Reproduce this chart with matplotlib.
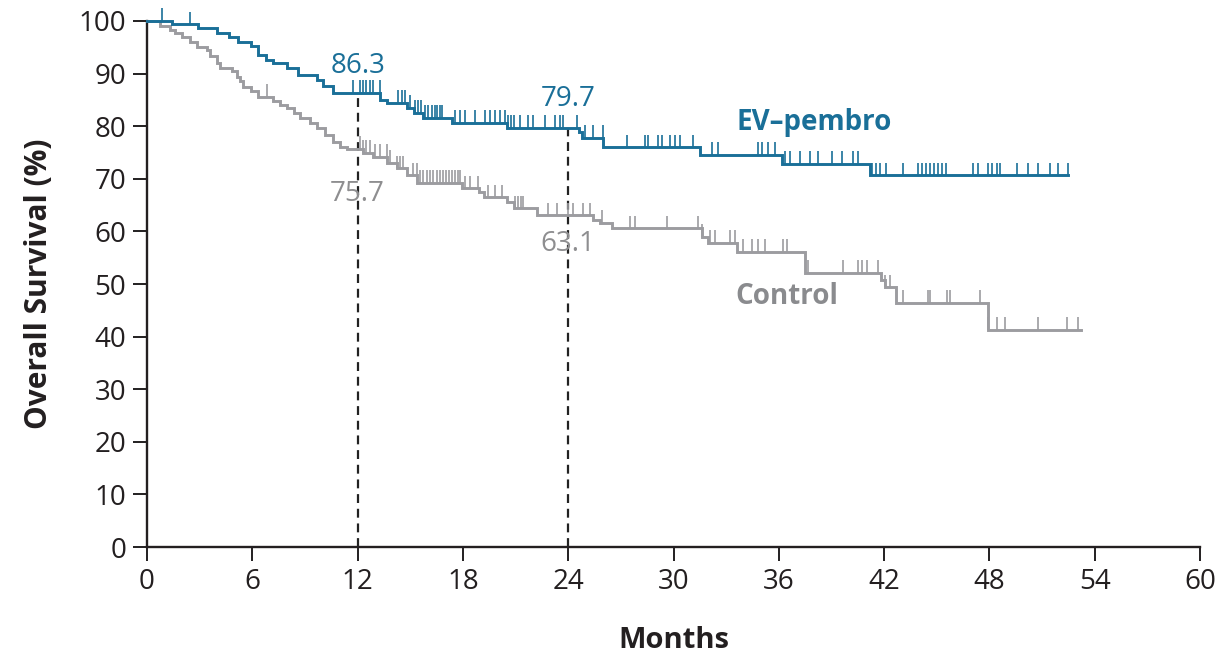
import numpy as np
import matplotlib
matplotlib.use("Agg")
from matplotlib import pyplot as plt

plt.rcParams['font.family'] = ['Open Sans', 'DejaVu Sans']

# Kaplan-Meier steps: (month of drop, survival after drop)
ev_times = [0, 1.42, 2.9, 4.0, 4.7, 5.2, 5.9, 6.3, 6.8, 7.2, 8.0, 8.6, 9.7, 10.0,
            10.6, 13.3, 13.7, 14.8, 15.2, 15.7, 17.4, 20.5, 24.6, 24.8, 26.0,
            31.5, 36.2, 41.2]
ev_surv = [100, 99.4, 98.6, 97.7, 97.0, 96.0, 95.3, 93.6, 92.6, 92.0, 91.0, 89.7,
           88.8, 87.7, 86.3, 85.0, 84.4, 83.5, 82.5, 81.6, 80.6, 79.7, 78.9, 77.8,
           76.0, 74.6, 72.8, 70.7]
ev_end = 52.5

ctl_times = [0, 0.75, 1.3, 1.6, 2.0, 2.45, 2.85, 3.4, 3.6, 4.0, 4.15, 4.85, 5.1,
             5.3, 5.45, 5.9, 6.3, 7.2, 7.6, 8.0, 8.4, 8.7, 9.3, 9.7, 10.15, 10.6,
             11.0, 11.4, 12.3, 12.9, 13.7, 14.25, 14.8, 15.4, 17.95, 18.9, 19.2,
             20.5, 20.9, 22.2, 25.4, 25.8, 26.5, 31.6, 31.95, 33.6, 37.5, 41.8,
             42.05, 42.7, 47.9]
ctl_surv = [100, 99.0, 98.3, 97.7, 97.0, 96.0, 95.1, 94.5, 93.4, 92.0, 91.0, 90.4,
            89.4, 88.5, 87.5, 86.6, 85.6, 84.7, 84.0, 83.5, 82.5, 81.6, 80.6, 79.7,
            78.3, 77.0, 76.1, 75.7, 74.9, 74.2, 73.0, 72.0, 70.7, 69.3, 68.2, 67.5,
            66.5, 65.6, 64.4, 63.1, 62.2, 61.6, 60.6, 59.0, 57.8, 56.1, 52.1, 50.8,
            49.4, 46.4, 41.3]
ctl_end = 53.2

# censoring marks (months)
ev_censor = [0.85, 2.45, 11.74, 12.14, 12.31, 12.48, 12.71, 12.88, 13.28, 14.30,
             14.53, 14.70, 14.99, 15.27, 15.44, 15.61, 15.84, 16.01, 16.24, 16.41,
             16.52, 16.70, 16.81, 17.55, 17.83, 18.12, 18.69, 19.26, 19.54, 19.83,
             20.11, 20.40, 20.57, 20.74, 20.91, 21.25, 21.71, 21.99, 22.68, 23.25,
             23.53, 23.70, 24.50, 24.96, 25.41, 25.98, 27.35, 28.38, 28.55, 29.12,
             29.34, 29.80, 30.09, 30.37, 31.11, 32.19, 32.54, 34.81, 35.04, 35.38,
             35.78, 36.35, 36.64, 37.21, 37.78, 38.23, 39.03, 39.60, 40.23, 40.51,
             41.31, 41.54, 41.77, 42.11, 43.08, 43.93, 44.16, 44.39, 44.62, 44.84,
             45.07, 45.30, 45.53, 47.07, 47.35, 47.92, 48.15, 48.43, 48.60, 49.57,
             50.20, 50.77, 51.45, 51.91, 52.48]
ctl_censor = [6.84, 12.14, 12.31, 12.48, 12.71, 12.99, 13.28, 13.68, 13.85, 14.25,
              14.42, 14.59, 15.16, 15.38, 15.56, 15.73, 15.95, 16.13, 16.30, 16.52,
              16.70, 16.87, 17.04, 17.21, 17.38, 17.55, 17.72, 17.83, 18.12, 18.40,
              18.86, 19.43, 19.83, 20.23, 20.97, 21.14, 21.31, 21.42, 22.85, 23.36,
              23.99, 24.27, 24.84, 25.24, 25.93, 27.52, 27.81, 29.63, 31.40, 31.62,
              32.08, 32.36, 33.22, 33.50, 33.96, 34.47, 34.81, 35.21, 36.24, 36.47,
              37.66, 39.66, 40.51, 40.74, 41.03, 41.65, 42.05, 42.34, 43.08, 44.50,
              44.62, 45.58, 45.75, 47.46, 47.92, 48.43, 48.89, 50.77, 52.42, 53.05]

landmarks = [12, 24]
ev_landmark = ["86.3", "79.7"]
ctl_landmark = ["75.7", "63.1"]

BLUE = '#1a6f98'
GRAY = '#9c9ca0'
TXT = '#231f20'


def surv_at(times, surv, t):
    idx = np.searchsorted(times, t, side='right') - 1
    return np.asarray(surv)[idx]


def draw_km(ax, times, surv, end, censor, color):
    x = list(times) + [end]
    y = list(surv) + [surv[-1]]
    ax.step(x, y, where='post', color=color, lw=2.1, solid_joinstyle='miter',
            clip_on=False, zorder=3)
    c = np.array(censor)
    s = surv_at(times, surv, c)
    ax.vlines(c, s, s + 2.4, color=color, lw=1.2, clip_on=False, zorder=3)


fig = plt.figure(figsize=(12.25, 6.56), dpi=100)
ax = fig.add_axes([0.12, 0.166, 0.8596, 0.802])

# dashed landmark lines
for m in landmarks:
    top = surv_at(ev_times, ev_surv, m)
    ax.vlines(m, 0, top, colors='#222222', linestyles=(0, (4, 2.6)), lw=1.6, zorder=2)

draw_km(ax, ctl_times, ctl_surv, ctl_end, ctl_censor, GRAY)
draw_km(ax, ev_times, ev_surv, ev_end, ev_censor, BLUE)

# landmark values
ax.text(12, 91.4, ev_landmark[0], color=BLUE, fontsize=20, ha='center', va='center')
ax.text(24, 85.1, ev_landmark[1], color=BLUE, fontsize=20, ha='center', va='center')
ax.text(12, 67.2, ctl_landmark[0], color='#8e8e90', fontsize=20, ha='center', va='center')
ax.text(24, 57.7, ctl_landmark[1], color='#8e8e90', fontsize=20, ha='center', va='center')

ax.text(33.6, 80.8, 'EV\u2013pembro', color=BLUE, fontsize=20, fontweight='bold',
        ha='left', va='center')
ax.text(33.5, 47.6, 'Control', color='#8a8b8e', fontsize=20, fontweight='bold',
        ha='left', va='center')

ax.set_xlim(0, 60)
ax.set_ylim(0, 100)
ax.set_xticks(np.arange(0, 61, 6))
ax.set_yticks(np.arange(0, 101, 10))
for side in ['top', 'right']:
    ax.spines[side].set_visible(False)
for side in ['left', 'bottom']:
    ax.spines[side].set_linewidth(1.7)
    ax.spines[side].set_color(TXT)
ax.tick_params(direction='out', length=10, width=1.4, colors=TXT, labelsize=20, pad=5)

ax.set_xlabel('Months', fontsize=21, fontweight='bold', color=TXT, labelpad=22)
ax.set_ylabel('Overall Survival (%)', fontsize=21.5, fontweight='bold', color=TXT,
              labelpad=18)

fig.savefig('out.png', dpi=100)
